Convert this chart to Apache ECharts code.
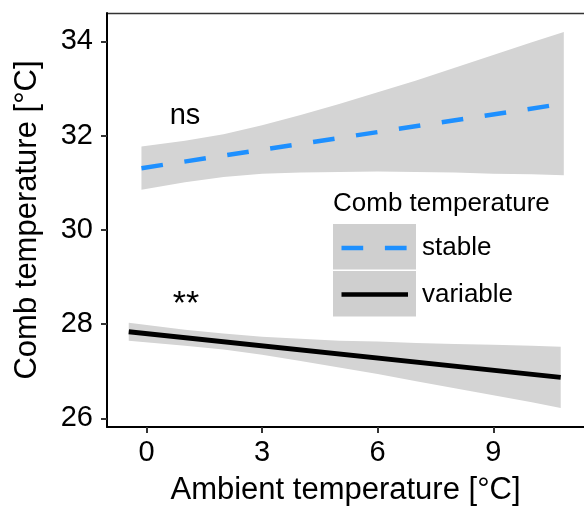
<!DOCTYPE html>
<html>
<head>
<meta charset="utf-8">
<script src="https://cdn.jsdelivr.net/npm/echarts@6/dist/echarts.min.js"></script>
<style>
  html, body { margin: 0; padding: 0; background: #fff; }
  #chart { width: 584px; height: 511px; }
</style>
</head>
<body>
<div id="chart"></div>
<script>
// Fitted comb temperature vs ambient temperature, with 95% confidence bands
var xTicks = [0, 3, 6, 9];
var yTicks = [26, 28, 30, 32, 34];

// stable comb temperature (dashed blue)
var stableLine = [[-0.13, 31.31], [10.83, 32.68]];
var stableBandX = [-0.13, 1, 2, 3, 4, 5, 6, 7, 8, 9, 10, 10.83];
var stableUpper = [31.77, 31.89, 32.03, 32.22, 32.44, 32.67, 32.92, 33.17, 33.44, 33.71, 33.98, 34.20];
var stableLower = [30.85, 31.01, 31.12, 31.19, 31.22, 31.23, 31.24, 31.23, 31.22, 31.19, 31.18, 31.16];

// variable comb temperature (solid black)
var variableLine = [[-0.46, 27.84], [10.75, 26.87]];
var variableBandX = [-0.46, 1, 2, 3, 4, 5, 6, 7, 8, 9, 10, 10.75];
var variableUpper = [28.03, 27.88, 27.80, 27.73, 27.69, 27.65, 27.63, 27.60, 27.58, 27.56, 27.54, 27.52];
var variableLower = [27.645, 27.54, 27.46, 27.35, 27.22, 27.08, 26.94, 26.79, 26.64, 26.49, 26.34, 26.22];

var seriesNames = ['stable', 'variable'];
var legendTitle = 'Comb temperature';
var notes = [{ text: 'ns', x: 185, y: 116 }, { text: '**', x: 186, y: 305 }];

var FONT = '"Liberation Sans", Arial, sans-serif';
var BAND = '#d4d4d4';
var BLUE = '#1E90FF';

function bandSeries(xs, up, lo) {
  return {
    type: 'custom',
    silent: true,
    data: [0],
    renderItem: function (params, api) {
      var pts = [];
      for (var i = 0; i < xs.length; i++) pts.push(api.coord([xs[i], up[i]]));
      for (var j = xs.length - 1; j >= 0; j--) pts.push(api.coord([xs[j], lo[j]]));
      return { type: 'polygon', shape: { points: pts }, style: { fill: BAND } };
    }
  };
}

var chart = echarts.init(document.getElementById('chart'), null, { renderer: 'canvas' });

var graphics = [];
// top edge of the panel
graphics.push({ type: 'line', shape: { x1: 107, y1: 13.5, x2: 584, y2: 13.5 }, style: { stroke: '#333', lineWidth: 1.5 } });
// legend
graphics.push({ type: 'text', left: 333, top: 191, style: { text: legendTitle, font: '26px ' + FONT, fill: '#000' } });
graphics.push({ type: 'rect', shape: { x: 333, y: 224, width: 83, height: 45.5 }, style: { fill: '#cfcfcf' } });
graphics.push({ type: 'rect', shape: { x: 333, y: 271, width: 83, height: 45.5 }, style: { fill: '#cfcfcf' } });
graphics.push({ type: 'line', shape: { x1: 341.5, y1: 248, x2: 408, y2: 248 }, style: { stroke: BLUE, lineWidth: 4.5, lineDash: [21.7, 21.7] } });
graphics.push({ type: 'line', shape: { x1: 341.5, y1: 294.5, x2: 408, y2: 294.5 }, style: { stroke: '#000', lineWidth: 4.5 } });
graphics.push({ type: 'text', x: 422, y: 248, style: { text: seriesNames[0], font: '26px ' + FONT, fill: '#000', verticalAlign: 'middle' } });
graphics.push({ type: 'text', x: 422, y: 295, style: { text: seriesNames[1], font: '26px ' + FONT, fill: '#000', verticalAlign: 'middle' } });
// significance notes
graphics.push({ type: 'text', x: notes[0].x, y: notes[0].y, style: { text: notes[0].text, font: '29px ' + FONT, fill: '#000', align: 'center', verticalAlign: 'middle' } });
graphics.push({ type: 'text', x: notes[1].x, y: notes[1].y, style: { text: notes[1].text, font: '34px ' + FONT, fill: '#000', align: 'center', verticalAlign: 'middle' } });

chart.setOption({
  animation: false,
  backgroundColor: '#fff',
  grid: { left: 107, right: -3, top: 13, bottom: 80, show: false },
  xAxis: {
    type: 'value', min: -1.024, max: 11.354,
    name: 'Ambient temperature [°C]', nameLocation: 'middle', nameGap: 48,
    nameTextStyle: { fontFamily: FONT, fontSize: 31, color: '#000' },
    axisLine: { show: true, onZero: false, lineStyle: { color: '#000', width: 2 } },
    axisTick: { show: true, length: 6, lineStyle: { color: '#333', width: 2 }, customValues: xTicks },
    axisLabel: { fontFamily: FONT, fontSize: 29, color: '#000', margin: 11, customValues: xTicks },
    splitLine: { show: false }
  },
  yAxis: {
    type: 'value', min: 25.817, max: 34.603,
    name: 'Comb temperature [°C]', nameLocation: 'middle', nameGap: 64,
    nameTextStyle: { fontFamily: FONT, fontSize: 31, color: '#000' },
    axisLine: { show: true, onZero: false, lineStyle: { color: '#000', width: 2 } },
    axisTick: { show: true, length: 6, lineStyle: { color: '#333', width: 2 }, customValues: yTicks },
    axisLabel: { fontFamily: FONT, fontSize: 29, color: '#000', margin: 14, customValues: yTicks },
    splitLine: { show: false }
  },
  series: [
    bandSeries(stableBandX, stableUpper, stableLower),
    bandSeries(variableBandX, variableUpper, variableLower),
    {
      name: seriesNames[0], type: 'line', data: stableLine, showSymbol: false, silent: true,
      lineStyle: { color: BLUE, width: 4.5, type: [21.7, 21.7], cap: 'butt' }
    },
    {
      name: seriesNames[1], type: 'line', data: variableLine, showSymbol: false, silent: true,
      lineStyle: { color: '#000', width: 5, cap: 'butt' }
    }
  ],
  graphic: graphics
});
</script>
</body>
</html>
